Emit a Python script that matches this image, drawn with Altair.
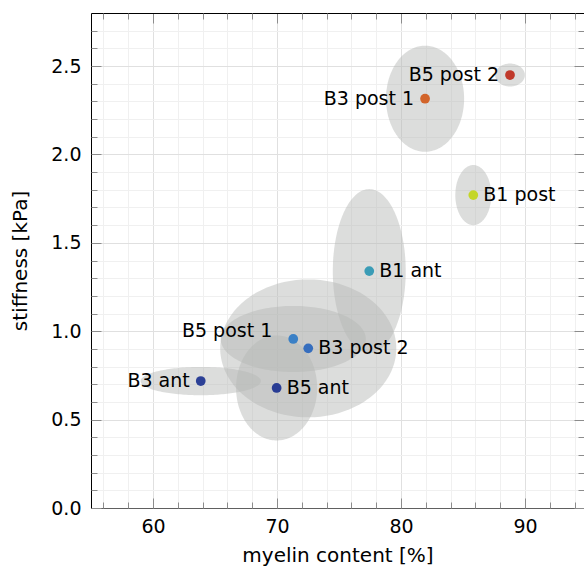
import altair as alt
import numpy as np
import pandas as pd

# ---------------- data ----------------
names = ["B3 ant", "B5 ant", "B5 post 1", "B3 post 2", "B1 ant", "B1 post", "B3 post 1", "B5 post 2"]
myelin = [63.85, 69.97, 71.31, 72.52, 77.44, 85.83, 81.94, 88.79]
stiffness = [0.718, 0.679, 0.956, 0.903, 1.340, 1.770, 2.315, 2.449]
myelin_spread = [4.85, 3.27, 5.85, 7.10, 2.94, 1.45, 3.15, 1.20]
stiffness_spread = [0.080, 0.297, 0.187, 0.390, 0.464, 0.170, 0.300, 0.065]
label_side = ["left", "right", "left", "right", "right", "right", "left", "left"]
colors = ["#2c4096", "#283c94", "#3a80c6", "#366ebe", "#3a9cb6", "#c4d628", "#d2642a", "#c0392b"]

x_major = [60, 70, 80, 90]
x_minor = [56, 58, 62, 64, 66, 68, 72, 74, 76, 78, 82, 84, 86, 88, 92, 94]
y_major = [0.0, 0.5, 1.0, 1.5, 2.0, 2.5]
y_minor = [0.1, 0.2, 0.3, 0.4, 0.6, 0.7, 0.8, 0.9, 1.1, 1.2, 1.3, 1.4,
           1.6, 1.7, 1.8, 1.9, 2.1, 2.2, 2.3, 2.4, 2.6, 2.7]

# ---------------- tables ----------------
pts = pd.DataFrame({"grp": names, "myelin": myelin, "stiffness": stiffness, "side": label_side})

t = np.linspace(0, np.pi, 91)
rows = []
for n, cx, cy, a, b in zip(names, myelin, stiffness, myelin_spread, stiffness_spread):
    for ti in t:
        rows.append({"grp": n, "x": float(cx + a * np.cos(ti)),
                     "ytop": float(cy + b * np.sin(ti)), "ybot": float(cy - b * np.sin(ti))})
ell = pd.DataFrame(rows)

# ---------------- layout ----------------
W, H = 493, 495
FONT = "DejaVu Sans"
TICK = "#8c8c8c"
x_scale = alt.Scale(domain=[55, 55 + W / 12.4], nice=False, zero=False)
y_scale = alt.Scale(domain=[0, 2.8], nice=False, zero=False)


def tick_axis(orient, offset, values, size, grid=False, domain=False, domain_color="black"):
    kw = dict(orient=orient, offset=offset, values=values, ticks=True, tickSize=size,
              tickColor=TICK, tickWidth=1, labels=False, domain=domain, grid=grid,
              title="", minExtent=0, maxExtent=0)
    if grid:
        kw["gridColor"] = "#f0f0f0"
        kw["gridWidth"] = 1
    if domain:
        kw["domainColor"] = domain_color
        kw["domainWidth"] = 1
    return alt.Axis(**kw)


x_main = alt.Axis(orient="bottom", values=x_major, title="myelin content [%]", grid=True,
                  gridColor="#e0e0e0", ticks=False, domainColor="#606060", domainWidth=1,
                  labelFont=FONT, labelFontSize=19, labelColor="black", labelPadding=9,
                  labelFlush=False, titleFont=FONT, titleFontSize=20, titleFontWeight="normal",
                  titleColor="black", titlePadding=9)
y_main = alt.Axis(orient="left", values=y_major, format=".1f", title="stiffness [kPa]", grid=True,
                  gridColor="#e0e0e0", ticks=False, domainColor="black", domainWidth=1,
                  labelFont=FONT, labelFontSize=19, labelColor="black", labelPadding=10,
                  labelFlush=False, titleFont=FONT, titleFontSize=20, titleFontWeight="normal",
                  titleColor="black", titlePadding=20)

ellipses = alt.Chart(ell).mark_area(color="#b5b7b5", opacity=0.48).encode(
    x=alt.X("x:Q", scale=x_scale, axis=x_main),
    y=alt.Y("ytop:Q", scale=y_scale, axis=y_main),
    y2="ybot:Q",
    detail="grp:N",
)

points = alt.Chart(pts).mark_circle(size=95, opacity=1).encode(
    x=alt.X("myelin:Q", scale=x_scale, axis=tick_axis("top", -H, x_major, 10)),
    y=alt.Y("stiffness:Q", scale=y_scale, axis=tick_axis("right", -W, y_major, 10)),
    color=alt.Color("grp:N", scale=alt.Scale(domain=names, range=colors), legend=None),
)

text_base = alt.Chart(pts)

labels_right = text_base.mark_text(font=FONT, fontSize=19, color="black", baseline="middle",
                                   align="left", dx=10).encode(
    x=alt.X("myelin:Q", scale=x_scale, axis=tick_axis("top", -H, x_minor, 6, grid=True)),
    y=alt.Y("stiffness:Q", scale=y_scale, axis=tick_axis("right", -W, y_minor, 6, grid=True)),
    text="grp:N",
).transform_filter(alt.datum.side == "right")

labels_left = text_base.mark_text(font=FONT, fontSize=19, color="black", baseline="middle",
                                  align="right", dx=-11).encode(
    x=alt.X("myelin:Q", scale=x_scale, axis=tick_axis("bottom", -H, x_major, 10, domain=True)),
    y=alt.Y("stiffness:Q", scale=y_scale, axis=tick_axis("left", -W, y_major, 10)),
    text="grp:N",
).transform_filter((alt.datum.side == "left") & (alt.datum.grp != "B5 post 1"))

label_b5p1 = text_base.mark_text(font=FONT, fontSize=19, color="black", baseline="middle",
                                 align="right", dx=-21, dy=-8).encode(
    x=alt.X("myelin:Q", scale=x_scale, axis=tick_axis("bottom", -H, x_minor, 6)),
    y=alt.Y("stiffness:Q", scale=y_scale, axis=tick_axis("left", -W, y_minor, 6)),
    text="grp:N",
).transform_filter(alt.datum.grp == "B5 post 1")

chart = alt.layer(ellipses, points, labels_right, labels_left, label_b5p1).resolve_axis(
    x="independent", y="independent"
).properties(
    width=W, height=H,
    autosize=alt.AutoSizeParams(type="none"),
    padding={"left": 91, "top": 13, "right": 0, "bottom": 64},
).configure_view(strokeWidth=0)

chart.save("out.html", embed_options={"renderer": "svg", "actions": False})
